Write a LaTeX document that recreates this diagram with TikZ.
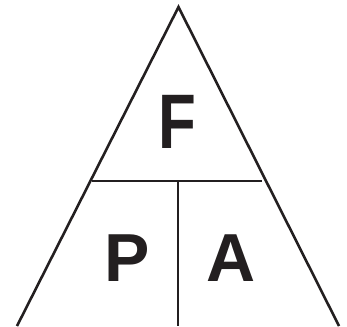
\documentclass[tikz,border=0pt]{standalone}
\usepackage{fontspec}
\setmainfont{Liberation Sans}
\usepackage{tikz}
\usetikzlibrary{positioning, calc}
\definecolor{ink}{RGB}{35,31,32}

\tikzset{
  edge/.style={draw=ink, line width=2.2pt, line cap=butt},
  letter/.style={inner sep=0pt, text=ink, font=\bfseries\fontsize{#1}{#1}\selectfont},
}

\begin{document}
\begin{tikzpicture}[x=0.03cm, y=-0.03cm]
  \useasboundingbox (0,0) rectangle (347,326);
  % triangle corners (bottom open)
  \coordinate (apex) at (178.5,7);
  \coordinate (botleft) at (17,326);
  \coordinate (botright) at (339,326);
  \draw[edge, line join=miter] (botleft) -- (apex) -- (botright);
  % divider
  \coordinate (midleft) at (91.5,181);
  \coordinate (midright) at (262,181);
  \coordinate (midcentre) at (178,181);
  \coordinate (bottom) at (178,326);
  \draw[edge] (midleft) -- (midright);
  \draw[edge] (midcentre) -- (bottom);
  % letters
  \node[letter=66pt, xscale=0.8] (force) at (177.5,122) {F};
  \node[letter=58pt] (pressure) at (127.5,258.5) {P};
  \node[letter=58pt] (area) at (231.5,258.5) {A};
\end{tikzpicture}
\end{document}
